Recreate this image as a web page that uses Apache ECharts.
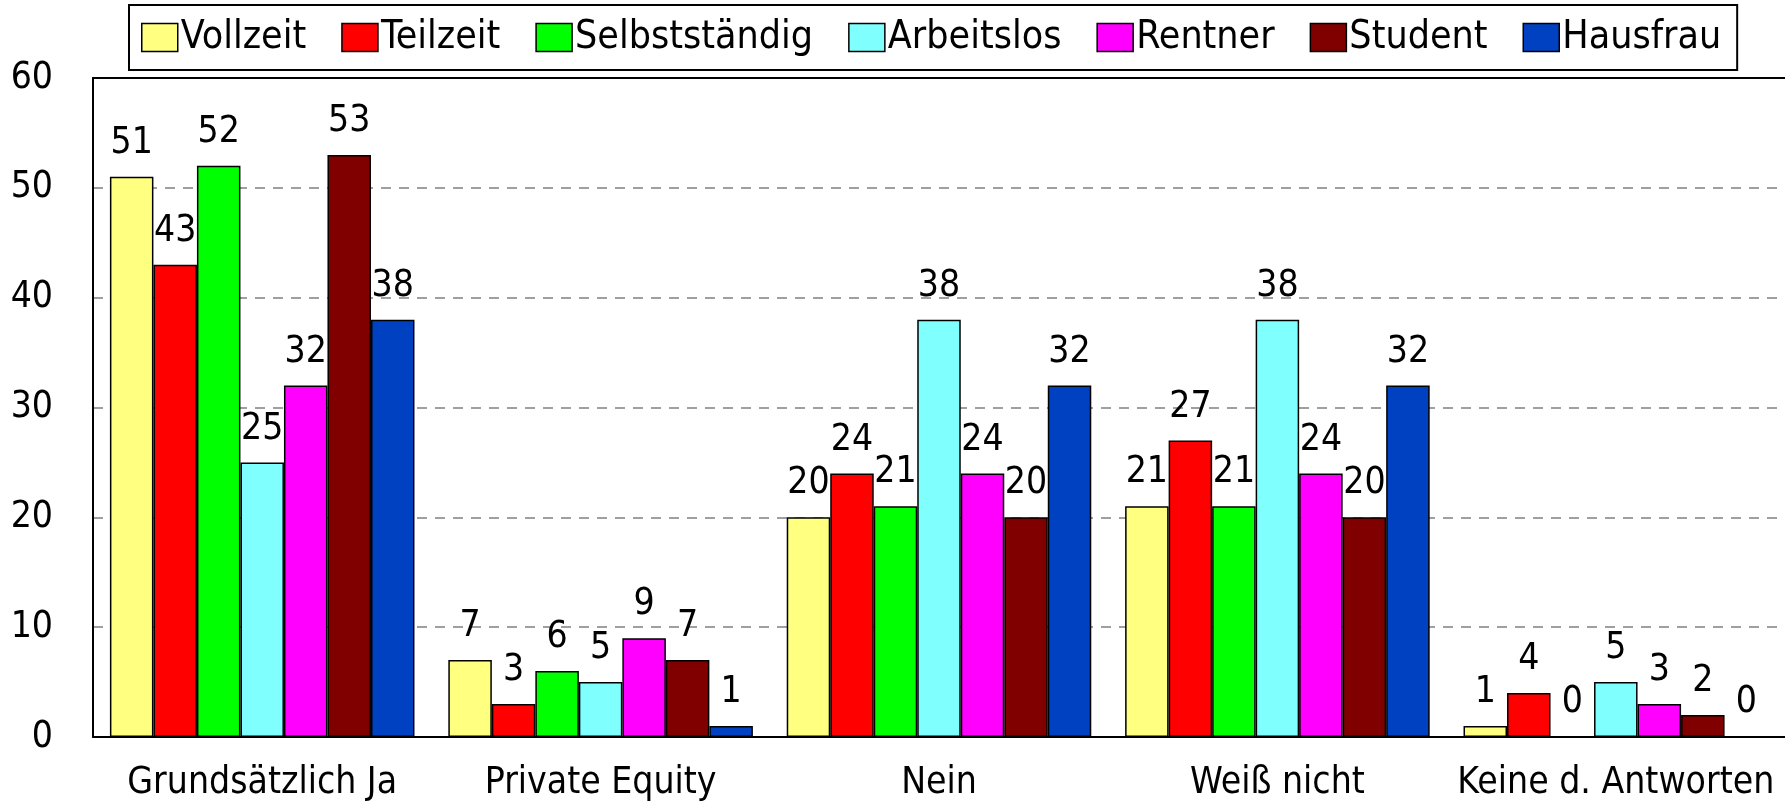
<!DOCTYPE html>
<html lang="de">
<head>
<meta charset="UTF-8">
<script src="https://cdn.jsdelivr.net/npm/echarts@6/dist/echarts.min.js"></script>
<title>Chart</title>
<style>
  html, body { margin: 0; padding: 0; background: #fff; }
  #chart { width: 1785px; height: 808px; }
</style>
</head>
<body>
<div id="chart"></div>
<script>
const categories = ['Grundsätzlich Ja', 'Private Equity', 'Nein', 'Weiß nicht', 'Keine d. Antworten'];
const seriesNames = ['Vollzeit', 'Teilzeit', 'Selbstständig', 'Arbeitslos', 'Rentner', 'Student', 'Hausfrau'];
const vollzeit = [51, 7, 20, 21, 1];
const teilzeit = [43, 3, 24, 27, 4];
const selbststaendig = [52, 6, 21, 21, 0];
const arbeitslos = [25, 5, 38, 38, 5];
const rentner = [32, 9, 24, 24, 3];
const student = [53, 7, 20, 20, 2];
const hausfrau = [38, 1, 32, 32, 0];
const colors = ['#ffff80', '#ff0000', '#00ff00', '#80ffff', '#ff00ff', '#800000', '#0041c2'];

const values = [vollzeit, teilzeit, selbststaendig, arbeitslos, rentner, student, hausfrau];
const font = '"DejaVu Sans Condensed", sans-serif';

const chart = echarts.init(document.getElementById('chart'));

chart.setOption({
  animation: false,
  textStyle: { fontFamily: font },
  legend: {
    data: seriesNames,
    left: 129,
    top: 5,
    padding: [13, 16, 13, 12],
    itemGap: 35,
    itemWidth: 36,
    itemHeight: 28,
    borderColor: '#000',
    borderWidth: 2,
    icon: 'rect',
    itemStyle: { borderColor: '#000', borderWidth: 1.5 },
    textStyle: { fontSize: 39, color: '#000', fontFamily: font, padding: [0, 0, 0, -2] }
  },
  grid: {
    left: 93,
    right: -10,
    top: 78,
    bottom: 71
  },
  xAxis: [{
    type: 'category',
    data: categories,
    axisLine: { lineStyle: { color: '#000', width: 2 } },
    axisTick: { show: false },
    axisLabel: { interval: 0, fontSize: 37, color: '#000', margin: 28, fontFamily: font }
  }, {
    type: 'category',
    position: 'top',
    data: categories,
    axisLine: { lineStyle: { color: '#000', width: 2 } },
    axisTick: { show: false },
    axisLabel: { show: false }
  }],
  yAxis: {
    type: 'value',
    min: 0,
    max: 60,
    interval: 10,
    axisLine: { show: true, lineStyle: { color: '#000', width: 2 } },
    axisTick: { show: false },
    axisLabel: { fontSize: 37, color: '#000', margin: 40, fontFamily: font },
    splitLine: {
      lineStyle: { color: '#808080', type: [10, 8], width: 1.5 }
    }
  },
  series: seriesNames.map((name, i) => ({
    name: name,
    type: 'bar',
    data: values[i],
    barGap: '0%',
    barCategoryGap: '10%',
    itemStyle: { color: colors[i], borderColor: '#000', borderWidth: 1.5 },
    label: {
      show: true,
      position: 'top',
      distance: 15,
      fontSize: 37,
      color: '#000',
      fontFamily: font
    }
  }))
});
</script>
</body>
</html>
